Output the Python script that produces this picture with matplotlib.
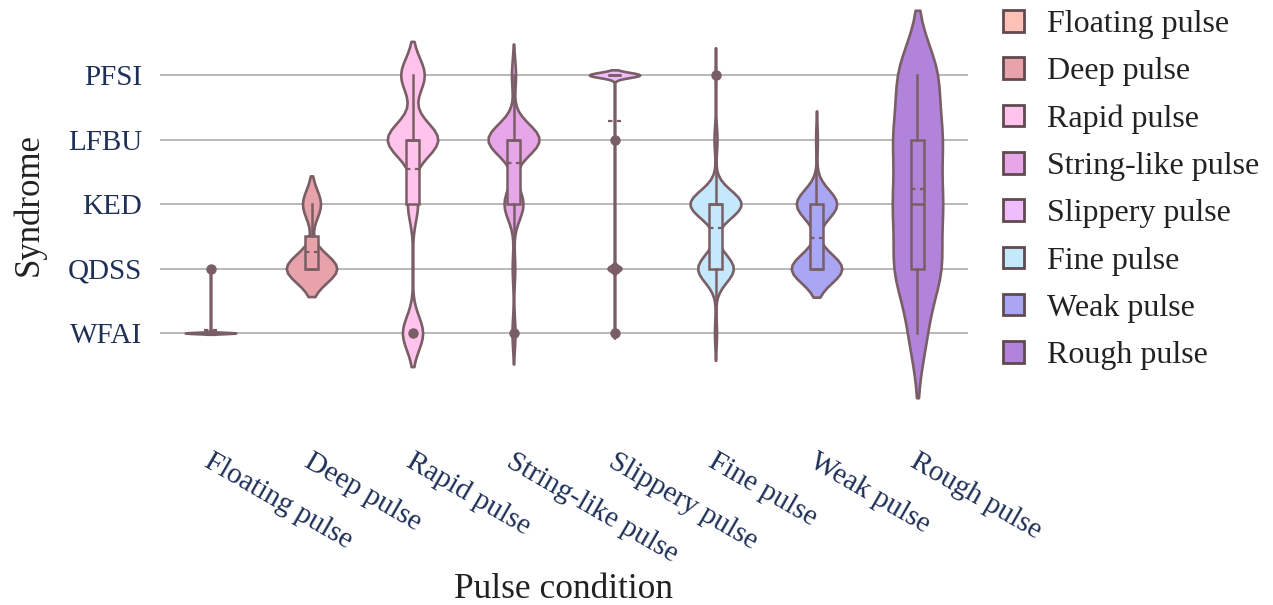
import numpy as np
import matplotlib
matplotlib.use('Agg')
import matplotlib.pyplot as plt
from matplotlib.patches import Patch
from matplotlib.transforms import ScaledTranslation

plt.rcParams['font.family'] = ['Liberation Serif', 'DejaVu Serif']

syndromes = ['WFAI', 'QDSS', 'KED', 'LFBU', 'PFSI']
pulses = ['Floating pulse', 'Deep pulse', 'Rapid pulse', 'String-like pulse',
          'Slippery pulse', 'Fine pulse', 'Weak pulse', 'Rough pulse']

# cases per syndrome, in the order WFAI, QDSS, KED, LFBU, PFSI
floating_counts = [20, 1, 0, 0, 0]
deep_counts = [0, 14, 5, 0, 0]
rapid_counts = [48, 0, 24, 120, 56]
string_counts = [14, 12, 89, 240, 19]
slippery_counts = [1, 8, 0, 1, 31]
fine_counts = [7, 122, 175, 10, 3]
weak_counts = [0, 60, 48, 2, 0]
rough_counts = [12, 32, 32, 32, 28]

all_counts = [floating_counts, deep_counts, rapid_counts, string_counts,
              slippery_counts, fine_counts, weak_counts, rough_counts]

fill_colors = ['#ffc1b5', '#e8a3aa', '#ffc3ec', '#e6a6e8',
               '#efbcfd', '#c4e9fd', '#a9a6f3', '#b283da']
line_color = '#7a5e66'
tick_color = '#1f3057'
text_color = '#222222'


def make_stats(counts):
    """Kernel density (Silverman bandwidth, soft span) and box stats."""
    vals = np.repeat(np.arange(len(syndromes)), counts).astype(float)
    n = len(vals)
    q1, med, q3 = np.percentile(vals, [25, 50, 75])
    mean = vals.mean()
    rng = vals.max() - vals.min()
    sd = vals.std(ddof=1)
    bw = max(1.059 * min(sd, (q3 - q1) / 1.349) * n ** -0.2, rng / 100)
    lo, hi = vals.min() - 2 * bw, vals.max() + 2 * bw
    npts = int(np.ceil((hi - lo) / (bw / 3)))
    coords = np.linspace(lo, hi, npts + 1)
    dens = np.exp(-0.5 * ((coords[:, None] - vals[None, :]) / bw) ** 2).sum(1)
    dens = dens / (n * bw * np.sqrt(2 * np.pi))

    iqr = q3 - q1
    ok = (vals >= q1 - 1.5 * iqr) & (vals <= q3 + 1.5 * iqr)
    vstat = dict(coords=coords, vals=dens, mean=mean, median=med,
                 min=vals.min(), max=vals.max(), quantiles=np.array([]))
    bstat = dict(med=med, q1=q1, q3=q3, whislo=vals[ok].min(),
                 whishi=vals[ok].max(), mean=mean,
                 fliers=np.unique(vals[~ok]))
    return vstat, bstat


vstats, bstats = zip(*[make_stats(c) for c in all_counts])
pos = np.arange(len(pulses))

fig = plt.figure(figsize=(12.73, 6.05), dpi=100)
ax = fig.add_axes([160 / 1273, 200 / 605, 808 / 1273, 400 / 605])

parts = ax.violin(list(vstats), positions=pos, widths=0.5,
                  showmeans=False, showextrema=False, showmedians=False)
for body, col in zip(parts['bodies'], fill_colors):
    body.set_facecolor(col)
    body.set_edgecolor(line_color)
    body.set_linewidth(1.9)
    body.set_alpha(1)

bp = ax.bxp(list(bstats), positions=pos, widths=0.13, showmeans=True,
            meanline=True, showcaps=False, patch_artist=True,
            boxprops=dict(edgecolor=line_color, linewidth=1.8),
            whiskerprops=dict(color=line_color, linewidth=1.8),
            medianprops=dict(color=line_color, linewidth=1.8),
            meanprops=dict(color=line_color, linestyle=(0, (2, 2)), linewidth=1.6),
            flierprops=dict(marker='o', markersize=6.5, markerfacecolor=line_color,
                            markeredgecolor=line_color))
for box, col in zip(bp['boxes'], fill_colors):
    box.set_facecolor(col)

ax.set_xlim(-0.5, len(pulses) - 0.5)
ax.set_ylim((333 - 405) / 64.5, (333 - 5) / 64.5)
ax.set_yticks(range(len(syndromes)), syndromes)
ax.set_xticks(pos, pulses)
ax.grid(axis='y', color='#b3b3b3', linewidth=1.3)
ax.set_axisbelow(True)
for s in ax.spines.values():
    s.set_visible(False)

ax.tick_params(axis='y', length=0, pad=13, labelsize=21, labelcolor=tick_color)
ax.tick_params(axis='x', length=0, pad=31, labelsize=21, labelcolor=tick_color)
for lab in ax.get_xticklabels():
    lab.set_rotation(-30)
    lab.set_rotation_mode('anchor')
    lab.set_ha('left')
    lab.set_va('top')
    lab.set_transform(lab.get_transform() + ScaledTranslation(0.02, 0, fig.dpi_scale_trans))

ax.set_ylabel('Syndrome', fontsize=25, color=text_color)
ax.yaxis.set_label_coords(-0.141, 0.5)
ax.set_xlabel('Pulse condition', fontsize=25.5, color=text_color)
ax.xaxis.set_label_coords(0.5, -0.42)

handles = [Patch(facecolor=c, edgecolor='#604a50', linewidth=2) for c in fill_colors]
fig.legend(handles, pulses, loc='upper left', bbox_to_anchor=(1003 / 1273, 1 - 10 / 605),
           frameon=False, fontsize=23, handlelength=0.66, handleheight=0.66,
           handletextpad=0.72, labelspacing=0.57, borderaxespad=0, borderpad=0,
           labelcolor=text_color)

fig.savefig('out.png', dpi=100)
